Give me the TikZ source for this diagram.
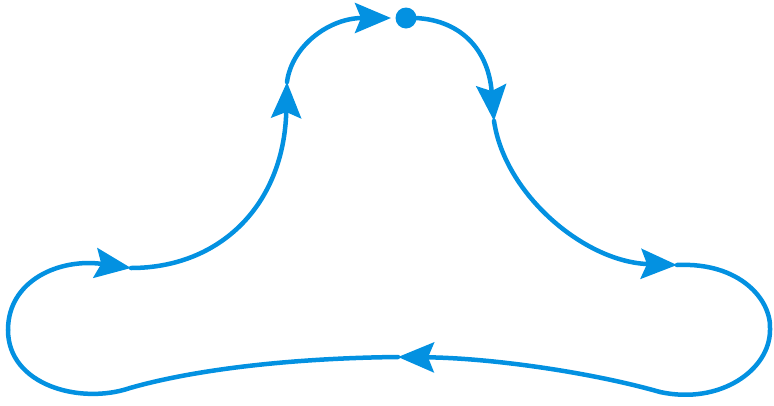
\documentclass[tikz,border=0pt]{standalone}
\usepackage{xcolor}
\usepackage{tikz}
\usetikzlibrary{arrows.meta}

\definecolor{loopblue}{RGB}{3,145,225}

\begin{document}
\begin{tikzpicture}[
  x=1pt, y=-1pt,
  plain/.style={draw=loopblue, line width=4.5pt, line cap=round},
  track/.style={plain, -{Stealth[length=36pt, width=30pt, inset=6pt]}},
]
\useasboundingbox (0,0) rectangle (774,405);

% ---------- start point and arrow positions ----------
\node[circle, fill=loopblue, inner sep=0pt, minimum size=21pt] (start) at (406,18) {};
\coordinate (down)  at (494,121);
\coordinate (east)  at (677,265);
\coordinate (rloop) at (770,330);
\coordinate (rlow)  at (660,392);
\coordinate (west)  at (398,357);
\coordinate (llow)  at (130,388);
\coordinate (lloop) at (8,330);
\coordinate (inner) at (131,268);
\coordinate (up)    at (287,82);
\coordinate (back)  at (391,18);

% ---------- the loop ----------
\draw[track] (start.center) .. controls (455,16) and (488,45) .. (down);
\draw[track] (down) .. controls (505,195) and (585,262) .. (east);
\draw[plain] (east) .. controls (740,262) and (772,300) .. (rloop)
                    .. controls (770,370) and (720,405) .. (rlow);
\draw[track] (rlow) .. controls (590,372) and (490,358) .. (west);
\draw[plain] (west) .. controls (300,358) and (200,368) .. (llow)
                    .. controls (80,405) and (8,385) .. (lloop);
\draw[track] (lloop) .. controls (8,280) and (60,258) .. (inner);
\draw[track] (inner) .. controls (220,268) and (284,205) .. (up);
\draw[track] (up) .. controls (292,45) and (330,18) .. (back);

\end{tikzpicture}
\end{document}
